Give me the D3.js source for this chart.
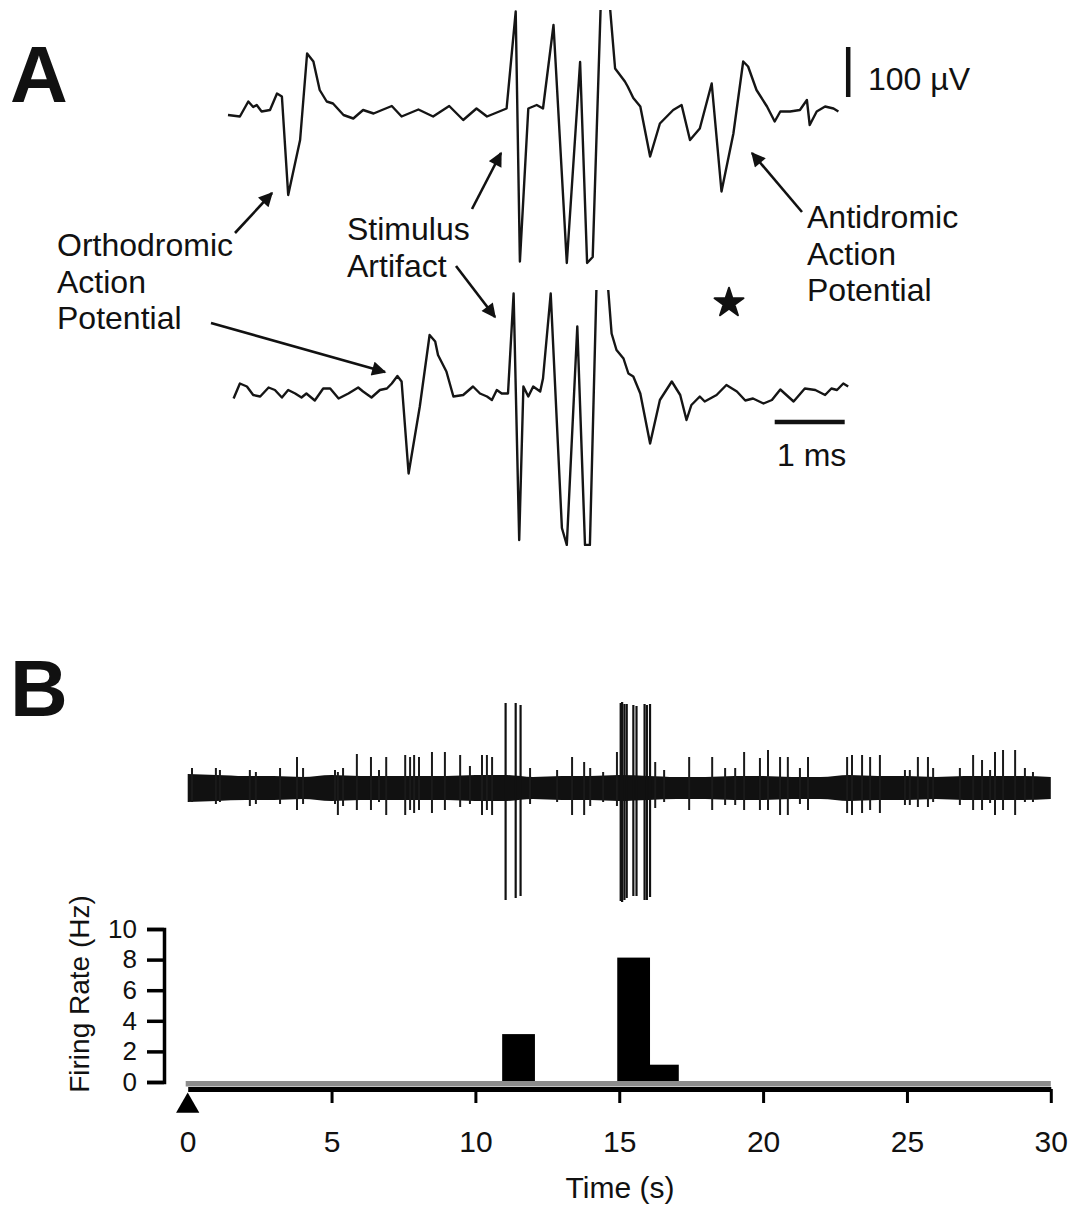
<!DOCTYPE html>
<html><head><meta charset="utf-8">
<script src="https://cdn.jsdelivr.net/npm/d3@7"></script>
<style>
body{margin:0;background:#fff}
svg{display:block}
text{font-family:"Liberation Sans",Arial,Helvetica,sans-serif;fill:#111}
</style>
</head><body>
<svg id="c" width="1078" height="1207"></svg>
<script>
// ---------- Panel A data (time in ms, voltage in µV) ----------
const trace1T = [0.00,0.17,0.29,0.36,0.41,0.48,0.60,0.70,0.77,0.86,1.03,1.13,1.22,1.31,1.41,1.50,1.65,1.79,1.93,2.08,2.20,2.34,2.48,2.72,2.93,3.16,3.36,3.55,3.70,3.98,4.11,4.17,4.29,4.41,4.50,4.65,4.79,4.84,5.03,5.13,5.21,5.33,5.44,5.53,5.67,5.71,5.79,5.89,6.03,6.17,6.36,6.48,6.60,6.74,6.91,7.05,7.22,7.36,7.43,7.55,7.70,7.81,7.89,8.03,8.17,8.27,8.31,8.41,8.53,8.65,8.72];
const trace1V = [-4,-7,23,12,16,3,6,39,33,-164,-54,119,103,46,23,19,-4,-11,6,-1,6,14,-7,7,-7,14,-14,9,-7,9,203,-297,9,16,9,176,-174,-300,102,-300,-288,240,240,89,63,53,30,13,-87,-21,6,16,-54,-31,59,-157,-41,103,93,46,13,-17,3,3,6,26,-24,3,13,9,3];
const trace2T = [0.08,0.17,0.27,0.36,0.46,0.58,0.67,0.77,0.86,0.96,1.05,1.12,1.24,1.36,1.46,1.58,1.72,1.86,1.93,2.05,2.17,2.27,2.34,2.42,2.48,2.58,2.74,2.88,2.96,3.00,3.12,3.22,3.36,3.50,3.60,3.70,3.77,3.84,3.91,4.00,4.08,4.16,4.22,4.29,4.36,4.46,4.50,4.61,4.77,4.84,4.99,5.10,5.17,5.27,5.41,5.48,5.55,5.65,5.72,5.79,5.89,6.03,6.17,6.34,6.46,6.55,6.62,6.74,6.81,6.98,7.12,7.27,7.39,7.50,7.65,7.77,7.89,8.08,8.24,8.39,8.53,8.62,8.70,8.79,8.86];
const trace2V = [-11,19,13,-4,-7,11,6,-9,6,-1,-9,-1,-15,9,9,-11,-1,11,3,-9,6,9,19,34,23,-161,-27,116,103,76,43,-7,-4,13,-1,-7,-14,6,-1,-1,199,-294,13,-7,13,3,29,199,-270,-304,133,-304,-304,246,246,119,86,69,39,33,-1,-101,-14,23,-4,-54,-24,-7,-17,-4,16,3,-15,-11,-21,-14,7,-17,9,6,-4,9,6,19,13];
const scaleBarUV = 100;   // µV
const scaleBarMs = 1;     // ms

// ---------- Panel B data ----------
// background noise envelope (arbitrary units) at each second
const envT   = [0,1,2,3,4,5,6,7,8,9,10,11,12,13,14,15,16,17,18,19,20,21,22,23,24,25,26,27,28,29,30];
const envAmp = [14,13,12,12,11,13,12,12,12,12,13,13,11,12,12,13,12,11,11,12,12,11,11,13,12,12,11,12,12,12,11];
// small visible spikes: time (s), upward and downward excursion
const spikeT    = [0.15,0.98,1.12,2.16,2.37,3.21,3.80,4.01,5.12,5.22,5.40,5.88,6.37,6.65,6.90,7.56,7.73,7.87,8.04,8.49,8.94,9.47,9.81,10.23,10.40,10.58,11.90,12.84,13.36,13.78,13.99,14.44,14.92,16.25,16.56,17.43,18.23,18.68,19.03,19.34,19.89,20.17,20.59,20.86,21.28,21.56,22.92,23.09,23.44,23.72,24.06,24.93,25.10,25.38,25.73,25.91,26.84,27.30,27.61,27.89,28.06,28.34,28.76,29.10,29.38];
const spikeUp   = [20,20,18,18,16,20,31,20,18,16,20,34,31,18,31,33,31,33,31,36,36,33,22,33,33,31,20,18,31,26,20,16,36,26,18,31,31,20,20,36,30,38,31,31,20,31,31,33,33,31,33,18,18,31,31,20,20,33,28,18,36,38,38,20,16];
const spikeDown = [14,16,14,18,16,16,22,16,16,27,18,22,22,14,27,27,22,25,22,25,22,19,16,27,22,27,16,14,27,27,18,14,18,20,14,22,22,17,17,22,22,22,27,27,16,22,25,27,25,22,25,17,17,19,19,14,17,22,22,15,27,22,27,14,14];
// antidromically driven large units
const unitT    = [11.05,11.40,11.57,15.05,15.10,15.18,15.26,15.49,15.60,15.88,15.96,16.07];
const unitUp   = [85,85,83,85,86,84,84,83,82,84,83,84];
const unitDown = [112,110,108,113,114,112,110,108,108,112,112,109];
// firing rate histogram (1-s bins)
const binStart = [11,15,16];
const binRate  = [3,8,1];
const rateTicks = [0,2,4,6,8,10];
const timeTicks = [0,5,10,15,20,25,30];

// ---------- drawing ----------
const svg = d3.select('#c');
const defs = svg.append('defs');
defs.append('marker').attr('id','arr').attr('viewBox','0 0 10 10')
  .attr('refX',9).attr('refY',5).attr('markerWidth',6).attr('markerHeight',5.5)
  .attr('orient','auto')
  .append('path').attr('d','M0,0 L10,5 L0,10 z').attr('fill','#111');

const xA  = d3.scaleLinear().domain([0, 8.8]).range([228, 844]);
const yA1 = d3.scaleLinear().domain([-300, 200]).range([263, 13]);
const yA2 = d3.scaleLinear().domain([-300, 200]).range([543, 293]);

function clipFor(id, y){
  defs.append('clipPath').attr('id', id).append('rect')
    .attr('x', 200).attr('width', 700)
    .attr('y', y(206)).attr('height', y(-306) - y(206));
}
clipFor('c1', yA1); clipFor('c2', yA2);

function drawTrace(T, V, y, clip){
  const pts = T.map((t,i)=>[t, V[i]]);
  svg.append('path').datum(pts)
    .attr('clip-path', `url(#${clip})`)
    .attr('d', d3.line().x(d=>xA(d[0])).y(d=>y(d[1])))
    .attr('fill','none').attr('stroke','#151515').attr('stroke-width',2.4)
    .attr('stroke-linejoin','round');
}
drawTrace(trace1T, trace1V, yA1, 'c1');
drawTrace(trace2T, trace2V, yA2, 'c2');

// scale bars
svg.append('line').attr('x1', xA(8.86)).attr('x2', xA(8.86))
  .attr('y1', yA1(132)).attr('y2', yA1(132 - scaleBarUV))
  .attr('stroke','#111').attr('stroke-width',4.5);
svg.append('text').attr('x', 868).attr('y', 90).attr('font-size', 32).text('100 µV');
svg.append('line').attr('x1', xA(7.81)).attr('x2', xA(7.81 + scaleBarMs))
  .attr('y1', yA2(-58)).attr('y2', yA2(-58))
  .attr('stroke','#111').attr('stroke-width',4.5);
svg.append('text').attr('x', 777).attr('y', 466).attr('font-size', 32).text('1 ms');

// annotations
function lines(x, y0, arr){
  const t = svg.append('text').attr('font-size', 32);
  arr.forEach((s,i)=> t.append('tspan').attr('x', x).attr('y', y0 + i*36.5).text(s));
}
lines(57, 256, ['Orthodromic','Action','Potential']);
lines(347, 240, ['Stimulus','Artifact']);
lines(807, 228, ['Antidromic','Action','Potential']);

const arrows = [[[235,233],[272,193]], [[211,323],[385,372]], [[472,209],[501,153]],
                [[456,266],[495,317]], [[802,212],[752,153]]];
arrows.forEach(a=>{
  svg.append('line').attr('x1',a[0][0]).attr('y1',a[0][1]).attr('x2',a[1][0]).attr('y2',a[1][1])
    .attr('stroke','#111').attr('stroke-width',2.6).attr('marker-end','url(#arr)');
});
svg.append('path').attr('transform','translate(729,303)')
  .attr('d', d3.symbol(d3.symbolStar).size(260)()).attr('fill','#111')
  .attr('stroke','#111').attr('stroke-width',2).attr('stroke-linejoin','round');

// panel letters
svg.append('text').attr('x', 10).attr('y', 102).attr('font-size', 80).attr('font-weight','bold').text('A');
svg.append('text').attr('x', 10).attr('y', 716).attr('font-size', 80).attr('font-weight','bold').text('B');

// ---------- Panel B ----------
const xB = d3.scaleLinear().domain([0, 30]).range([187.7, 1050.8]);
const yRaw = d3.scaleLinear().domain([-100, 100]).range([888, 688]);
const yRate = d3.scaleLinear().domain([0, 10]).range([1082, 929]);

const env = envT.map((t,i)=>[t, envAmp[i]]);
svg.append('path').datum(env)
  .attr('d', d3.area().x(d=>xB(d[0])).y0(d=>yRaw(-d[1])).y1(d=>yRaw(d[1])).curve(d3.curveMonotoneX))
  .attr('fill','#111');
svg.append('g').selectAll('line').data(spikeT).join('line')
  .attr('x1', d=>xB(d)).attr('x2', d=>xB(d))
  .attr('y1', (d,i)=>yRaw(spikeUp[i])).attr('y2', (d,i)=>yRaw(-spikeDown[i]))
  .attr('stroke','#1a1a1a').attr('stroke-width',2);
svg.append('g').selectAll('line').data(unitT).join('line')
  .attr('x1', d=>xB(d)).attr('x2', d=>xB(d))
  .attr('y1', (d,i)=>yRaw(unitUp[i])).attr('y2', (d,i)=>yRaw(-unitDown[i]))
  .attr('stroke','#111').attr('stroke-width',2.2);

// histogram bars
svg.append('g').selectAll('rect').data(binStart).join('rect')
  .attr('x', d=>xB(d)).attr('width', d=>xB(d+1)-xB(d))
  .attr('y', (d,i)=>yRate(binRate[i])).attr('height', (d,i)=>yRate(0)-yRate(binRate[i]))
  .attr('fill','#000').attr('stroke','#000').attr('stroke-width',4);

// gray stimulus/zero bar
svg.append('rect').attr('x', xB(0)-2).attr('width', xB(30)-xB(0)+2)
  .attr('y', 1081).attr('height', 5.5).attr('fill','#8c8c8c');

// x axis
const gx = svg.append('g').attr('transform','translate(0,1089)')
  .call(d3.axisBottom(xB).tickValues(timeTicks).tickSize(14).tickSizeOuter(0).tickFormat(d3.format('d')));
gx.select('.domain').attr('stroke','#000').attr('stroke-width',5);
gx.selectAll('.tick line').attr('stroke','#000').attr('stroke-width',3)
  .filter(d=>d===0).remove();
gx.selectAll('.tick text').attr('y', 63).attr('dy', 0)
  .attr('font-size', 30).attr('font-family','"Liberation Sans",Arial,sans-serif').attr('fill','#111');
svg.append('path').attr('transform', `translate(${xB(0)},1106)`)
  .attr('d', d3.symbol(d3.symbolTriangle).size(235)()).attr('fill','#000');
svg.append('text').attr('x', 620).attr('y', 1198).attr('text-anchor','middle')
  .attr('font-size', 30).text('Time (s)');

// y axis
const gy = svg.append('g').attr('transform','translate(164,0)')
  .call(d3.axisLeft(yRate).tickValues(rateTicks).tickSize(17).tickSizeOuter(17).tickPadding(10));
gy.select('.domain').attr('stroke','#000').attr('stroke-width',3.5);
gy.selectAll('.tick line').attr('stroke','#000').attr('stroke-width',3.5);
gy.selectAll('.tick text').attr('font-size', 26)
  .attr('font-family','"Liberation Sans",Arial,sans-serif').attr('fill','#111');
svg.append('text').attr('transform','translate(89,994) rotate(-90)')
  .attr('text-anchor','middle').attr('font-size', 28).text('Firing Rate (Hz)');
</script>
</body></html>
